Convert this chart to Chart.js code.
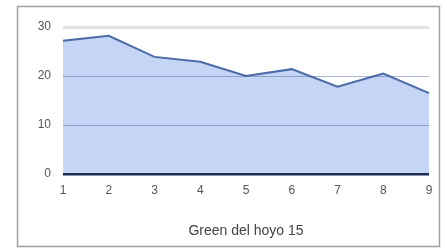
<!DOCTYPE html>
<html>
<head>
<meta charset="utf-8">
<script src="https://cdn.jsdelivr.net/npm/chart.js@4"></script>
<style>
  html, body { margin: 0; padding: 0; background: #fff; }
  #wrap { position: relative; width: 447px; height: 251px; }
</style>
</head>
<body>
<div id="wrap"><canvas id="myChart" width="447" height="251"></canvas></div>
<script>
// datos
const hoyos = ['1', '2', '3', '4', '5', '6', '7', '8', '9'];
const valores = [27.2, 28.2, 23.9, 22.9, 20.0, 21.4, 17.8, 20.5, 16.5];
const marcasY = [0, 10, 20, 30];
const tituloX = 'Green del hoyo 15';

// marco gris alrededor del gráfico
const marco = {
  id: 'marco',
  beforeDraw(chart) {
    const c = chart.ctx;
    c.save();
    c.fillStyle = '#fff';
    c.fillRect(0, 0, chart.width, chart.height);
    c.strokeStyle = '#a0a0a0';
    c.lineWidth = 1.5;
    c.strokeRect(17.5, 6.5, 422, 240);
    c.restore();
  }
};

const colorGrid = (ctx) => {
  const v = ctx.tick ? ctx.tick.value : null;
  if (v === 0) return '#1f2d55';
  if (v === 30) return '#e2e2e2';
  return 'rgba(70,95,150,0.45)';
};
const anchoGrid = (ctx) => {
  const v = ctx.tick ? ctx.tick.value : null;
  if (v === 0) return 2.5;
  if (v === 30) return 3;
  return 1;
};

const ctx = document.getElementById('myChart').getContext('2d');
const myChart = new Chart(ctx, {
  type: 'line',
  data: {
    labels: hoyos,
    datasets: [{
      data: valores,
      borderColor: '#4a6aa8',
      backgroundColor: '#c4d5f5',
      borderWidth: 2,
      fill: 'origin',
      pointRadius: 0,
      tension: 0
    }]
  },
  options: {
    responsive: false,
    animation: false,
    layout: { padding: { left: 0, top: 27, right: 18, bottom: 11 } },
    plugins: {
      legend: { display: false },
      tooltip: { enabled: false }
    },
    scales: {
      x: {
        offset: false,
        grid: { display: false, drawTicks: false },
        border: { display: false },
        ticks: {
          color: '#555',
          font: { family: 'Arial, Liberation Sans', size: 12 },
          padding: 9,
          maxRotation: 0
        },
        title: {
          display: true,
          text: tituloX,
          color: '#444',
          font: { family: 'Arial, Liberation Sans', size: 14 },
          padding: { top: 21, bottom: 0 }
        },
        afterFit(scale) { scale.height = 66; }
      },
      y: {
        min: 0,
        max: 30,
        z: 1,
        afterBuildTicks(scale) { scale.ticks = marcasY.map(v => ({ value: v })); },
        grid: { color: colorGrid, lineWidth: anchoGrid, drawTicks: false, z: 1 },
        border: { display: false },
        ticks: {
          color: '#555',
          font: { family: 'Arial, Liberation Sans', size: 12 },
          padding: 12
        },
        afterFit(scale) { scale.width = 63; }
      }
    }
  },
  plugins: [marco]
});
</script>
</body>
</html>
